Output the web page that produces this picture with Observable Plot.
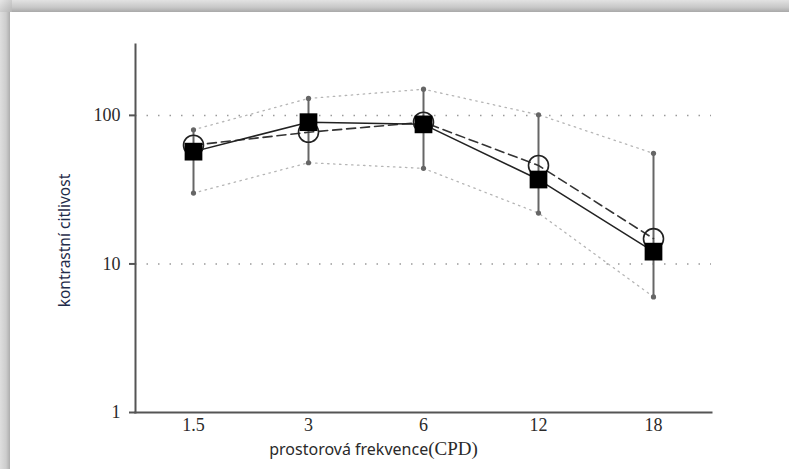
<!DOCTYPE html>
<html>
<head>
<meta charset="utf-8">
<script src="https://cdn.jsdelivr.net/npm/d3@7"></script>
<script src="https://cdn.jsdelivr.net/npm/@observablehq/plot@0.6"></script>
<style>
  html, body { margin: 0; padding: 0; background: #fff; }
  #wrap { position: relative; width: 789px; height: 469px; overflow: hidden; }
  #topband { position: absolute; left: 0; top: 0; width: 789px; height: 12px;
    background: linear-gradient(to bottom, #e2e2e2 0%, #c8c8c8 60%, #a9a9a9 100%); }
  #leftband { position: absolute; left: 0; top: 0; width: 10px; height: 469px;
    background: linear-gradient(to right, #dedede 0%, #cdcdcd 60%, #adadad 100%); }
  #topband2 { position: absolute; left: 0; top: 0; width: 12px; height: 12px;
    background: linear-gradient(to bottom right, #e6e6e6, #b5b5b5); }
</style>
</head>
<body>
<div id="wrap"><div id="chart"></div><div id="leftband"></div><div id="topband"></div><div id="topband2"></div></div>
<script>
const freqs = ["1.5", "3", "6", "12", "18"];
const squareVals = [57, 90, 87, 37, 12.1];   // solid line, filled squares
const circleVals = [63, 77, 90, 46, 14.8];   // dashed line, open circles
const upperVals = [80, 130, 150, 101, 55.5];
const lowerVals = [30, 48, 44, 22, 6];
const yTicks = [1, 10, 100];
const gridVals = [10, 100];

const rows = freqs.map((f, i) => ({
  f, sq: squareVals[i], ci: circleVals[i], hi: upperVals[i], lo: lowerVals[i]
}));

const serif = "'Liberation Serif', 'DejaVu Serif', serif";
const sans = "'Noto Sans', 'Open Sans', sans-serif";

const chart = Plot.plot({
  width: 789, height: 469,
  marginLeft: 135, marginRight: 78, marginTop: 44, marginBottom: 57,
  x: { type: "point", domain: freqs, padding: 0.5 },
  y: { type: "log", domain: [1, 300] },
  style: { background: "transparent", fontFamily: serif },
  marks: [
    Plot.ruleY(gridVals, { stroke: "#9a9a9a", strokeWidth: 1.5, strokeDasharray: "1.5,10" }),
    Plot.line(rows, { x: "f", y: "hi", stroke: "#b5b5b5", strokeWidth: 1.3, strokeDasharray: "1.5,4.5" }),
    Plot.line(rows, { x: "f", y: "lo", stroke: "#b5b5b5", strokeWidth: 1.3, strokeDasharray: "1.5,4.5" }),
    Plot.ruleX(rows, { x: "f", y1: "lo", y2: "hi", stroke: "#666", strokeWidth: 2 }),
    Plot.dot(rows, { x: "f", y: "hi", r: 2.6, fill: "#666", stroke: "none" }),
    Plot.dot(rows, { x: "f", y: "lo", r: 2.6, fill: "#666", stroke: "none" }),
    Plot.line(rows, { x: "f", y: "ci", stroke: "#333", strokeWidth: 1.6, strokeDasharray: "9,5" }),
    Plot.dot(rows, { x: "f", y: "ci", r: 10, fill: "none", stroke: "#222", strokeWidth: 1.6 }),
    Plot.line(rows, { x: "f", y: "sq", stroke: "#222", strokeWidth: 1.5 }),
    Plot.dot(rows, { x: "f", y: "sq", symbol: "square", r: 10, fill: "#000", stroke: "none" }),
    Plot.frame({ anchor: "left", stroke: "#555", strokeWidth: 2 }),
    Plot.frame({ anchor: "bottom", stroke: "#555", strokeWidth: 2 }),
    Plot.axisY({
      ticks: yTicks, tickFormat: d => String(d), tickSize: 6, tickPadding: 9,
      fontSize: 18, stroke: "#555", strokeWidth: 2,
      label: "kontrastní citlivost", labelAnchor: "center", labelArrow: "none", labelOffset: 78
    }),
    Plot.axisX({
      tickSize: 0, tickPadding: 6, fontSize: 18,
      label: "prostorová frekvence(CPD)", labelAnchor: "center", labelArrow: "none", labelOffset: 42
    })
  ]
});

document.getElementById("chart").appendChild(chart);

const svg = d3.select(chart);
svg.selectAll('g[aria-label="y-axis tick label"] text, g[aria-label="x-axis tick label"] text')
  .attr("fill", "#2a2a2a");
svg.select('g[aria-label="y-axis label"]').selectAll("text").each(function () {
  const t = d3.select(this);
  const tr = t.attr("transform") || "";
  t.attr("transform", "translate(0,12) " + tr);
  t.text(null).attr("fill", "#1f2c4a");
  t.append("tspan").style("font-family", sans).style("font-size", "15.5px").text("kontrastní citlivost");
});
svg.select('g[aria-label="x-axis label"]').selectAll("text").each(function () {
  const t = d3.select(this);
  const tr = t.attr("transform") || "";
  t.attr("transform", "translate(-50,0) " + tr);
  t.text(null).attr("fill", "#2a2a2a");
  t.append("tspan").style("font-family", sans).style("font-size", "16px").text("prostorová frekvence");
  t.append("tspan").style("font-family", serif).style("font-size", "19px").text("(CPD)");
});
</script>
</body>
</html>
